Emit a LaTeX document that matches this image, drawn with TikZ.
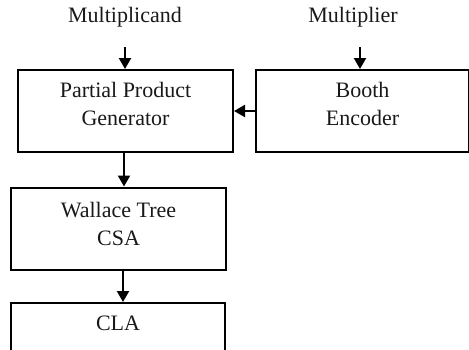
\documentclass[tikz,border=0pt]{standalone}
\usepackage{fontspec}
\setmainfont{Liberation Serif}
\usetikzlibrary{arrows.meta}
\tikzset{
  blockbox/.style={draw=black, line width=2pt, minimum width=215pt, minimum height=82pt, inner sep=0pt},
  lbl/.style={font=\fontsize{22}{28}\selectfont, text=black!90, align=center, inner sep=0pt},
  flow/.style={line width=2.2pt, -{Triangle[length=11pt,width=12pt]}}
}
\begin{document}
\begin{tikzpicture}[x=1pt,y=-1pt]
\useasboundingbox (0,0) rectangle (469,349);
\begin{scope}
\clip (0,0) rectangle (469,349);
% processing blocks
\node[blockbox] (ppg) at (125.5,111) {};
\node[blockbox, minimum width=213pt] (booth) at (362.5,111) {};
\node[blockbox] (wallace) at (118.5,228.5) {};
\node[blockbox, minimum width=214pt, minimum height=70pt, anchor=north] (cla) at (118,302) {};
% block captions
\node[lbl] (ppgtext) at ([yshift=7pt]ppg.center) {Partial Product\\Generator};
\node[lbl] (boothtext) at ([yshift=7pt]booth.center) {Booth\\Encoder};
\node[lbl] (wallacetext) at ([yshift=4.5pt]wallace.center) {Wallace Tree\\CSA};
\node[lbl] (clatext) at (118,323) {CLA};
% inputs
\node[lbl] (mcand) at (125,17) {Multiplicand};
\node[lbl] (mplier) at (353,17) {Multiplier};
\coordinate (mcandin) at (125,47);
\coordinate (mplierin) at (360,47);
% data flow
\draw[flow] (mcandin) -- (mcandin |- ppg.north);
\draw[flow] (mplierin) -- (mplierin |- booth.north);
\draw[flow] (booth.west) -- (ppg.east);
\draw[flow] ([xshift=-1.5pt]ppg.south) -- ([xshift=-1.5pt]ppg.south |- wallace.north);
\draw[flow] ([xshift=4.5pt]wallace.south) -- ([xshift=4.5pt]wallace.south |- cla.north);
\end{scope}
\end{tikzpicture}
\end{document}
